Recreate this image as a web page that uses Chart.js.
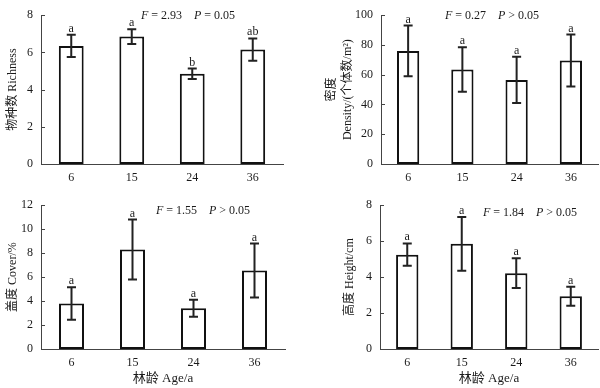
<!DOCTYPE html>
<html><head><meta charset="utf-8">
<script src="https://cdn.jsdelivr.net/npm/chart.js@4.4.1/dist/chart.umd.min.js"></script>
<style>
body{margin:0;background:#fff;width:600px;height:388px;position:relative;overflow:hidden}
canvas{position:absolute}
</style></head><body>
<canvas id="c1" width="300" height="190" style="left:0;top:0"></canvas>
<canvas id="c2" width="300" height="190" style="left:300px;top:0"></canvas>
<canvas id="c3" width="300" height="198" style="left:0;top:190px"></canvas>
<canvas id="c4" width="300" height="198" style="left:300px;top:190px"></canvas>
<script>
// ---- data ----
const ages = ['6', '15', '24', '36'];
const richness = [6.35, 6.85, 4.85, 6.15];
const richnessErr = [0.6, 0.4, 0.28, 0.6];
const richnessLetters = ['a', 'a', 'b', 'ab'];
const density = [76, 63.5, 56.5, 69.5];
const densityErr = [17, 15, 15.5, 17.5];
const densityLetters = ['a', 'a', 'a', 'a'];
const cover = [3.8, 8.3, 3.4, 6.55];
const coverErr = [1.35, 2.5, 0.7, 2.25];
const coverLetters = ['a', 'a', 'a', 'a'];
const heightVals = [5.25, 5.85, 4.22, 2.93];
const heightErr = [0.62, 1.5, 0.83, 0.53];
const heightLetters = ['a', 'a', 'a', 'a'];
const statF = ['2.93', '0.27', '1.55', '1.84'];
const statP = ['= 0.05', '> 0.05', '> 0.05', '> 0.05'];
const yMaxes = [8, 100, 12, 8];
const ySteps = [2, 20, 2, 2];
const yTitles = ['物种数 Richness', ['密度', 'Density/(个体数/m²)'], '盖度 Cover/%', '高度 Height/cm'];
const xTitle = '林龄 Age/a';

const FONT = "'Liberation Serif', 'Times New Roman', 'Noto Sans CJK SC', serif";
const TXT = '#1a1a1a';
const AX = '#444';

const errPlugin = {
  id: 'errPlugin',
  afterDatasetsDraw(chart) {
    const o = chart.options.plugins.errPlugin;
    const ctx = chart.ctx;
    const ys = chart.scales.y;
    const meta = chart.getDatasetMeta(0);
    const vals = chart.data.datasets[0].data;
    ctx.save();
    ctx.strokeStyle = '#222';
    ctx.lineWidth = 2;
    ctx.fillStyle = TXT;
    ctx.font = '12px ' + FONT;
    ctx.textAlign = 'center';
    ctx.textBaseline = 'alphabetic';
    meta.data.forEach((el, i) => {
      const v = vals[i], e = o.errs[i];
      const yt = ys.getPixelForValue(v + e), yb = ys.getPixelForValue(v - e);
      const x = el.x;
      ctx.beginPath();
      ctx.moveTo(x, yt); ctx.lineTo(x, yb);
      ctx.moveTo(x - 4.5, yt); ctx.lineTo(x + 4.5, yt);
      ctx.moveTo(x - 4.5, yb); ctx.lineTo(x + 4.5, yb);
      ctx.stroke();
      ctx.fillText(o.letters[i], x, yt - 3);
    });
    ctx.restore();
  },
  afterDraw(chart) {
    const o = chart.options.plugins.errPlugin;
    const ctx = chart.ctx;
    const ys = chart.scales.y;
    const a = chart.chartArea;
    ctx.save();
    ctx.strokeStyle = AX;
    ctx.lineWidth = 1;
    ys.ticks.forEach(t => {
      const y = Math.round(ys.getPixelForValue(t.value)) + 0.5;
      ctx.beginPath();
      ctx.moveTo(a.left, y); ctx.lineTo(a.left + 4, y);
      ctx.stroke();
    });
    // stats text
    ctx.fillStyle = TXT;
    ctx.textBaseline = 'middle';
    const segs = [['F', true], [' = ' + o.f + '    ', false], ['P', true], [' ' + o.p, false]];
    let total = 0;
    segs.forEach(s => { ctx.font = (s[1] ? 'italic ' : '') + '12px ' + FONT; total += ctx.measureText(s[0]).width; });
    let x = o.statX - total / 2;
    ctx.textAlign = 'left';
    segs.forEach(s => {
      ctx.font = (s[1] ? 'italic ' : '') + '12px ' + FONT;
      ctx.fillText(s[0], x, o.statY);
      x += ctx.measureText(s[0]).width;
    });
    ctx.restore();
  }
};

function makeChart(id, vals, errs, letters, idx, area, yTitlePad, yTitleLH, showX, statX, statY) {
  const cv = document.getElementById(id);
  const W = cv.width, H = cv.height;
  return new Chart(cv, {
    type: 'bar',
    data: {
      labels: ages,
      datasets: [{
        data: vals,
        backgroundColor: '#fff',
        borderColor: '#111',
        borderWidth: 2,
        borderSkipped: false,
        barPercentage: 0.41,
        categoryPercentage: 1.0
      }]
    },
    plugins: [errPlugin],
    options: {
      responsive: false,
      animation: false,
      devicePixelRatio: 1,
      layout: { padding: { top: area.top, right: W - area.right, left: 0, bottom: 0 } },
      plugins: {
        legend: { display: false },
        tooltip: { enabled: false },
        errPlugin: { errs: errs, letters: letters, f: statF[idx], p: statP[idx], statX: statX, statY: statY }
      },
      scales: {
        x: {
          grid: { display: false, drawTicks: false },
          border: { display: true, color: AX, width: 1 },
          ticks: { color: TXT, font: { family: FONT, size: 12 }, padding: 7 },
          title: { display: showX, text: xTitle, color: TXT, font: { family: FONT, size: 13 }, padding: { top: 0, bottom: 2 } },
          afterFit(s) { s.height = H - area.bottom; }
        },
        y: {
          min: 0, max: yMaxes[idx],
          grid: { display: false, drawTicks: false },
          border: { display: true, color: AX, width: 1 },
          ticks: { stepSize: ySteps[idx], color: TXT, font: { family: FONT, size: 12 }, padding: 8 },
          title: { display: true, text: yTitles[idx], color: TXT, font: { family: FONT, size: 12, lineHeight: yTitleLH }, padding: { top: yTitlePad, bottom: 0 } },
          afterFit(s) { s.width = area.left; }
        }
      }
    }
  });
}

makeChart('c1', richness, richnessErr, richnessLetters, 0, { left: 41, top: 15, right: 283, bottom: 164 }, 6, 1.12, false, 188, 16);
makeChart('c2', density, densityErr, densityLetters, 1, { left: 81, top: 15, right: 298, bottom: 164 }, 24, 1.3, false, 192, 16);
makeChart('c3', cover, coverErr, coverLetters, 2, { left: 41, top: 15, right: 285, bottom: 159 }, 6, 1.12, true, 203, 21);
makeChart('c4', heightVals, heightErr, heightLetters, 3, { left: 80, top: 15, right: 298, bottom: 159 }, 43, 1.12, true, 230, 23);
</script>
</body></html>
